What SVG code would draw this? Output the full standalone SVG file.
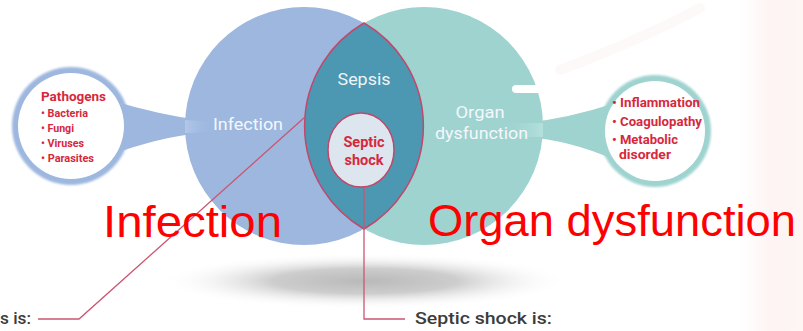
<svg xmlns="http://www.w3.org/2000/svg" width="803" height="331" viewBox="0 0 803 331">
<defs>
<radialGradient id="shadow" cx="0.5" cy="0.5" r="0.5">
<stop offset="0" stop-color="#b9b9b9"/>
<stop offset="0.45" stop-color="#cdcdcd"/>
<stop offset="1" stop-color="#ffffff" stop-opacity="0"/>
</radialGradient>
<linearGradient id="bandL" x1="0" y1="0" x2="1" y2="0">
<stop offset="0" stop-color="#b3c7e8"/>
<stop offset="1" stop-color="#9db7df" stop-opacity="0"/>
</linearGradient>
<linearGradient id="bandR" x1="1" y1="0" x2="0" y2="0">
<stop offset="0" stop-color="#b4e0dc"/>
<stop offset="1" stop-color="#9fd3d0" stop-opacity="0"/>
</linearGradient>
<linearGradient id="pinkEdge" x1="0" y1="0" x2="1" y2="0">
<stop offset="0" stop-color="#fdf4f3" stop-opacity="0"/>
<stop offset="0.5" stop-color="#fdf4f3"/>
<stop offset="1" stop-color="#fdf6f5"/>
</linearGradient>
<filter id="soft" x="-20%" y="-20%" width="140%" height="140%">
<feGaussianBlur stdDeviation="1"/>
</filter>
</defs>
<style>
.lbl{font-family:"Roboto","Liberation Sans",sans-serif;}
.white{fill:#f4f7fb;font-size:16px;}
.red{fill:#d6283d;font-weight:bold;font-family:"Roboto","Liberation Sans",sans-serif;}
.big{fill:#ff0000;font-family:"Liberation Sans",Arial,sans-serif;font-size:44px;}
.dark{fill:#3c3c3c;font-size:17px;font-weight:500;font-family:"Roboto","Liberation Sans",sans-serif;}
.conn{fill:none;stroke:#cc5670;stroke-width:1.3;}
</style>
<rect width="803" height="331" fill="#ffffff"/>
<rect x="740" y="0" width="63" height="331" fill="url(#pinkEdge)"/>
<path d="M560 70 Q640 40 700 8" fill="none" stroke="#fdf9f9" stroke-width="10" stroke-linecap="round"/>
<ellipse cx="365" cy="281" rx="205" ry="28" fill="url(#shadow)"/>

<g id="node-pathogens">
<path d="M110 100 Q160 115 200 120 L200 133 Q160 137 110 155 Z" fill="#9db7df"/>
<circle cx="71" cy="126" r="59" fill="#9db7df" filter="url(#soft)"/>
<circle cx="71" cy="126" r="53" fill="#ffffff"/>
<text class="red" x="41" y="101" font-size="13.5" textLength="65" lengthAdjust="spacingAndGlyphs">Pathogens</text>
<text class="red" font-size="11">
<tspan x="41" y="117" textLength="47" lengthAdjust="spacingAndGlyphs">• Bacteria</tspan>
<tspan x="41" y="132" textLength="33" lengthAdjust="spacingAndGlyphs">• Fungi</tspan>
<tspan x="41" y="147" textLength="43" lengthAdjust="spacingAndGlyphs">• Viruses</tspan>
<tspan x="41" y="162" textLength="53" lengthAdjust="spacingAndGlyphs">• Parasites</tspan>
</text>
</g>

<g id="node-organ-list">
<path d="M615 103 Q570 118 525 123 L525 137 Q570 140 615 160 Z" fill="#9fd3d0"/>
<circle cx="655" cy="131" r="56" fill="#9fd3d0" filter="url(#soft)"/>
<circle cx="655" cy="131" r="50" fill="#ffffff"/>
<text class="red" font-size="12">
<tspan x="612" y="107" textLength="88" lengthAdjust="spacingAndGlyphs">• Inflammation</tspan>
<tspan x="612" y="126" textLength="90" lengthAdjust="spacingAndGlyphs">• Coagulopathy</tspan>
<tspan x="612" y="144" textLength="66" lengthAdjust="spacingAndGlyphs">• Metabolic</tspan>
<tspan x="619" y="159" textLength="52" lengthAdjust="spacingAndGlyphs">disorder</tspan>
</text>
</g>

<g id="node-infection">
<circle cx="304" cy="126" r="119" fill="#9db7df"/>
<path d="M185 120 L215 122 L215 132 L185 133 Z" fill="url(#bandL)"/>
<text class="lbl white" x="213" y="130" textLength="70" lengthAdjust="spacingAndGlyphs">Infection</text>
</g>

<g id="node-organ">
<circle cx="424" cy="126" r="119" fill="#9fd3d0"/>
<path d="M500 123 L543 123 L543 137 L500 137 Z" fill="url(#bandR)"/>
<path d="M516 89 L543 89" stroke="#ffffff" stroke-width="8" stroke-linecap="round"/>
<text class="lbl white" x="480" y="118" text-anchor="middle" textLength="49" lengthAdjust="spacingAndGlyphs">Organ</text>
<text class="lbl white" x="435" y="139" textLength="93" lengthAdjust="spacingAndGlyphs">dysfunction</text>
</g>

<g id="node-sepsis">
<path d="M364 23 A119 119 0 0 1 364 229 A119 119 0 0 1 364 23 Z" fill="#4c97b2" stroke="#c4476a" stroke-width="1.5"/>
<text class="lbl" x="364" y="85" text-anchor="middle" fill="#eef5f8" font-size="17" textLength="53" lengthAdjust="spacingAndGlyphs">Sepsis</text>
</g>

<g id="node-septic-shock">
<ellipse cx="361" cy="150" rx="33" ry="37" fill="#dde5ee" stroke="#c4476a" stroke-width="1.5"/>
<text class="red" x="364" y="147" text-anchor="middle" font-size="14.5">Septic</text>
<text class="red" x="364" y="165" text-anchor="middle" font-size="14.5">shock</text>
</g>

<g id="connectors">
<polyline class="conn" points="38,319 79,319 305,117"/>
<polyline class="conn" points="364,187 364,319 405,319"/>
</g>

<g id="labels">
<text class="dark" x="0" y="324" textLength="31" lengthAdjust="spacingAndGlyphs">s is:</text>
<text class="dark" x="415" y="324" textLength="137" lengthAdjust="spacingAndGlyphs">Septic shock is:</text>
<text class="big" x="103" y="237" textLength="179" lengthAdjust="spacingAndGlyphs">Infection</text>
<text class="big" x="428" y="236" textLength="368" lengthAdjust="spacingAndGlyphs">Organ dysfunction</text>
</g>
</svg>
